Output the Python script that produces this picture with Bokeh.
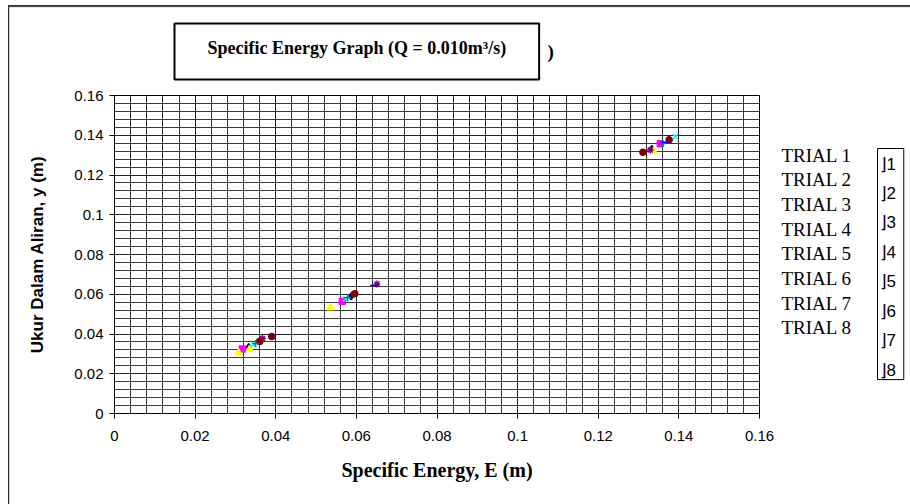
import numpy as np
from bokeh.plotting import figure
from bokeh.models import FixedTicker, NumeralTickFormatter, Label, Range1d
from bokeh.embed import file_html
from bokeh.resources import INLINE

# ---------------- data ----------------
title_text = "Specific Energy Graph (Q = 0.010m\u00b3/s)"
x_label = "Specific Energy, E (m)"
y_label = "Ukur Dalam Aliran, y (m)"
tick_values = [0, 0.02, 0.04, 0.06, 0.08, 0.1, 0.12, 0.14, 0.16]

trial_names = ["TRIAL 1", "TRIAL 2", "TRIAL 3", "TRIAL 4",
               "TRIAL 5", "TRIAL 6", "TRIAL 7", "TRIAL 8"]
legend_keys = ["1", "2", "3", "4", "5", "6", "7", "8"]

E_t1 = [0.0333, 0.0587, 0.1333]
y_t1 = [0.0334, 0.0589, 0.1331]
E_t2 = [0.0317, 0.0565, 0.1354]
y_t2 = [0.0325, 0.0565, 0.1357]
E_t3 = [0.0308, 0.0335, 0.0536, 0.1337]
y_t3 = [0.0305, 0.0322, 0.0532, 0.1319]
E_t4 = [0.0345, 0.0573, 0.1391]
y_t4 = [0.0347, 0.0577, 0.1393]
E_t5 = [0.0367, 0.0651, 0.1329]
y_t5 = [0.0377, 0.0652, 0.1326]
E_t6 = [0.0360, 0.0390, 0.0596, 0.1311, 0.1376]
y_t6 = [0.0362, 0.0388, 0.0602, 0.1314, 0.1377]
E_t7 = [0.0350, 0.0578, 0.1359]
y_t7 = [0.0352, 0.0583, 0.1358]
E_t8 = [0.0391, 0.0643, 0.1366]
y_t8 = [0.0392, 0.0644, 0.1365]

series_E = [E_t1, E_t2, E_t3, E_t4, E_t5, E_t6, E_t7, E_t8]
series_y = [y_t1, y_t2, y_t3, y_t4, y_t5, y_t6, y_t7, y_t8]

# ---------------- style ----------------
colors = ["#000080", "#FF00FF", "#FFFF00", "#00FFFF",
          "#800080", "#800000", "#008080", "#0000FF"]
markers = ["diamond", "square", "triangle", "x",
           "asterisk", "circle", "cross", "dash"]
sizes = [7, 6, 7, 7, 7, 6, 7, 7]

W, H = 910, 504
FL, FR, FT, FB = 114, 759, 95, 413

p = figure(width=W, height=H, output_backend="svg", toolbar_location=None,
           x_range=Range1d(0, 0.16), y_range=Range1d(0, 0.16),
           min_border_left=FL, min_border_right=W - FR,
           min_border_top=FT, min_border_bottom=H - FB)
p.background_fill_color = "white"
p.border_fill_color = "white"
p.outline_line_color = "black"

minor = [round(v, 3) for v in np.arange(0, 0.1601, 0.004)]
for ax in (p.xaxis[0], p.yaxis[0]):
    ax.ticker = FixedTicker(ticks=tick_values, minor_ticks=minor)
    ax.formatter = NumeralTickFormatter(format="0.[00]")
    ax.major_label_text_font = "Liberation Sans"
    ax.major_label_text_font_size = "15px"
    ax.major_label_text_color = "black"
    ax.major_tick_in = 0
    ax.major_tick_out = 5
    ax.minor_tick_line_color = None
    ax.axis_line_color = "black"
    ax.major_tick_line_color = "black"

p.xaxis.axis_label = x_label
p.xaxis.axis_label_text_font = "Liberation Serif"
p.xaxis.axis_label_text_font_style = "bold"
p.xaxis.axis_label_text_font_size = "20px"
p.xaxis.axis_label_text_color = "black"
p.xaxis.major_label_standoff = 12
p.xaxis.axis_label_standoff = 15

p.yaxis.axis_label = y_label
p.yaxis.axis_label_text_font = "Liberation Sans"
p.yaxis.axis_label_text_font_style = "bold"
p.yaxis.axis_label_text_font_size = "17px"
p.yaxis.axis_label_text_color = "black"
p.yaxis.major_label_standoff = 6
p.yaxis.axis_label_standoff = 24

for g in (p.xgrid[0], p.ygrid[0]):
    g.grid_line_color = "#262626"
    g.grid_line_width = 1
    g.minor_grid_line_color = "#3a3a3a"
    g.minor_grid_line_width = 1

for i in range(8):
    p.scatter(series_E[i], series_y[i], marker=markers[i], size=sizes[i],
              fill_color=colors[i], line_color=colors[i], line_width=1.5)

LU = dict(x_units="canvas", y_units="canvas")


def set_pad(lab, l, r, t, b):
    try:
        lab.padding = dict(left=l, right=r, top=t, bottom=b)
        return
    except Exception:
        pass
    try:
        lab.padding = (t, r, b, l)
    except Exception:
        lab.padding = max(l, r, t, b)


def frame_box(left, top, right, bottom, color, width, side):
    lab = Label(x=left, y=top, **LU, text=" ", text_align="left", text_baseline="top",
                text_font_size="1px", text_color=color,
                border_line_color=color, border_line_width=width,
                background_fill_color=None)
    set_pad(lab, 0, int(right - left), 0, int(bottom - top))
    p.add_layout(lab, side)


# outer chart border: left edge and top edge (rest lies beyond the window)
frame_box(8, 5, 8, 520, "#333333", 1, "left")
frame_box(8, 5, 920, 5, "#333333", 1, "above")

# title inside its box
title_lab = Label(x=174, y=23, **LU,
                  text=title_text, text_align="left", text_baseline="top",
                  text_font="Liberation Serif", text_font_style="bold",
                  text_font_size="18px", text_color="black",
                  border_line_color="black", border_line_width=2,
                  background_fill_color="white")
set_pad(title_lab, 33, 33, 14, 22)
p.add_layout(title_lab, "above")
p.add_layout(Label(x=547, y=51, **LU,
                   text=")", text_align="left", text_baseline="middle",
                   text_font="Liberation Serif", text_font_style="bold",
                   text_font_size="19px", text_color="black"), "above")

# legend remnants
p.add_layout(Label(x=781, y=144, **LU,
                   text="\n".join(trial_names), text_align="left", text_baseline="top",
                   text_font="Liberation Serif", text_font_size="19px",
                   text_line_height=1.176, text_color="black"), "right")
frame_box(877, 148, 903, 378, "black", 1, "right")
p.add_layout(Label(x=879, y=154, **LU,
                   text="\n".join("\u230b" + k for k in legend_keys),
                   text_align="left", text_baseline="top",
                   text_font="Liberation Sans", text_font_size="17px",
                   text_line_height=1.55, text_color="black"), "right")

open("out.html", "w").write(file_html(p, INLINE))
